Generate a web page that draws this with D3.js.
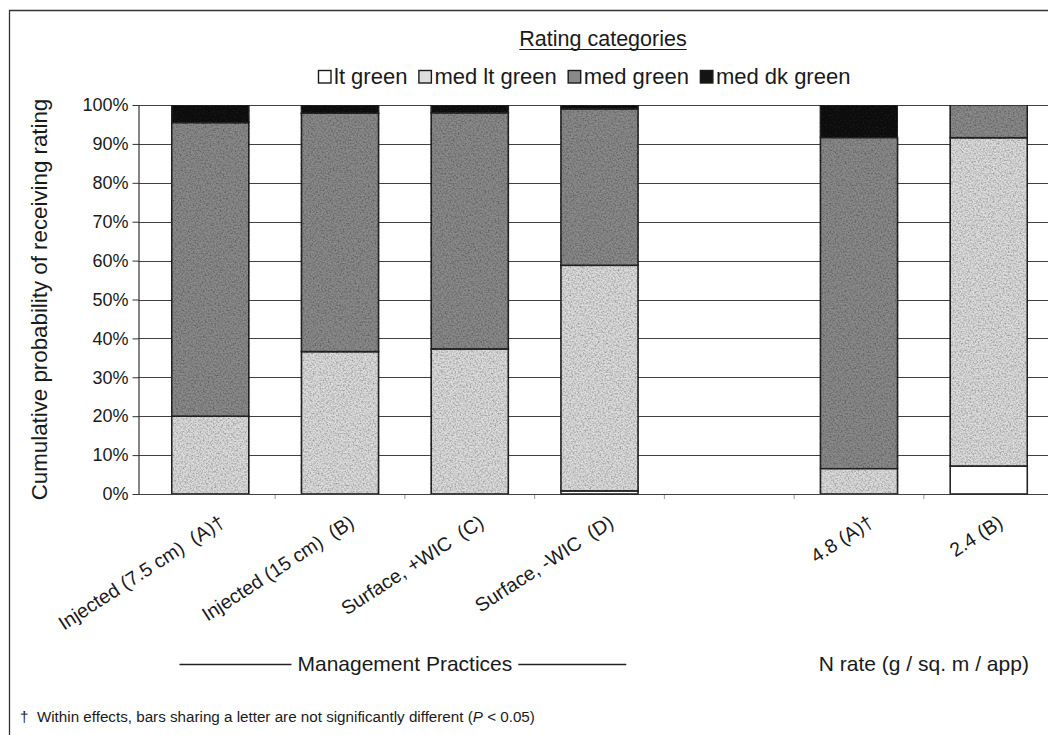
<!DOCTYPE html>
<html>
<head>
<meta charset="utf-8">
<script src="https://cdn.jsdelivr.net/npm/d3@7"></script>
<style>
  body { margin: 0; background: #fff; }
  svg { display: block; font-family: "Liberation Sans", Arial, Helvetica, sans-serif; }
</style>
</head>
<body>
<svg id="chart" width="1048" height="735"></svg>
<script>
// Treatments, in plotting order (an empty slot separates the two effects)
const categories = [
  "Injected (7.5 cm)  (A)\u2020",
  "Injected (15 cm)  (B)",
  "Surface, +WIC  (C)",
  "Surface, -WIC  (D)",
  "4.8 (A)\u2020",
  "2.4 (B)"
];
const slots = [categories[0], categories[1], categories[2], categories[3], "", categories[4], categories[5]];

// Rating categories (stack order, bottom to top)
const ratingNames = ["lt green", "med lt green", "med green", "med dk green"];

// Probability (%) of each rating, per treatment
const ltGreen    = [0.0,  0.0,  0.0,  0.8,  0.0,  7.2];
const medLtGreen = [20.0, 36.6, 37.3, 58.0, 6.5,  84.4];
const medGreen   = [75.5, 61.3, 60.7, 40.2, 85.1, 8.4];
const medDkGreen = [4.5,  2.1,  2.0,  1.0,  8.4,  0.0];

const yTicks = [0, 10, 20, 30, 40, 50, 60, 70, 80, 90, 100];

const effectGroups = [
  { label: "Management Practices", members: [categories[0], categories[3]], rules: true },
  { label: "N rate (g / sq. m / app)", members: [categories[4], categories[5]], rules: false }
];

const fills = ["#ffffff", "#dcdcdc", "#8a8a8a", "#141414"];

// ---------------------------------------------------------------
const svg = d3.select("#chart");
const plot = { left: 138, right: 1061, top: 105, bottom: 494 };

const x = d3.scaleBand()
  .domain(slots)
  .range([plot.left, plot.right])
  .paddingInner(0.406)
  .paddingOuter(0.26);

const y = d3.scaleLinear().domain([0, 100]).range([plot.bottom, plot.top]);

const color = d3.scaleOrdinal().domain(ratingNames).range(fills);

const rows = categories.map((c, i) => ({
  category: c,
  "lt green": ltGreen[i],
  "med lt green": medLtGreen[i],
  "med green": medGreen[i],
  "med dk green": medDkGreen[i]
}));
const stacked = d3.stack().keys(ratingNames)(rows);

// grain for the shaded fills
const defs = svg.append("defs");
const grain = defs.append("filter").attr("id", "grain")
  .attr("x", 0).attr("y", 0).attr("width", 1).attr("height", 1);
grain.append("feTurbulence").attr("type", "fractalNoise")
  .attr("baseFrequency", 0.6).attr("numOctaves", 2).attr("seed", 7).attr("result", "noise");
grain.append("feColorMatrix").attr("in", "noise").attr("type", "matrix")
  .attr("values", "0 0 0 0 0  0 0 0 0 0  0 0 0 0 0  1.2 0 0 0 -0.45").attr("result", "speck");
grain.append("feComposite").attr("in", "speck").attr("in2", "SourceGraphic")
  .attr("operator", "in").attr("result", "speckIn");
const merge = grain.append("feMerge");
merge.append("feMergeNode").attr("in", "SourceGraphic");
merge.append("feMergeNode").attr("in", "speckIn");

// outer frame
svg.append("path")
  .attr("d", "M9.5,740 V10.5 H1060")
  .attr("fill", "none").attr("stroke", "#333").attr("stroke-width", 1.3);

// gridlines
svg.append("g")
  .selectAll("line")
  .data(yTicks)
  .join("line")
  .attr("x1", plot.left).attr("x2", 1048)
  .attr("y1", d => Math.round(y(d)) + 0.5).attr("y2", d => Math.round(y(d)) + 0.5)
  .attr("stroke", "#404040").attr("stroke-width", 1.2);

// category boundary ticks below the baseline
const step = x.step();
const boundaries = slots.slice(0, -1).map(s => x(s) + x.bandwidth() + step * x.paddingInner() / 2);
svg.append("g")
  .selectAll("line")
  .data(boundaries)
  .join("line")
  .attr("x1", d => d).attr("x2", d => d)
  .attr("y1", plot.bottom + 1).attr("y2", plot.bottom + 5)
  .attr("stroke", "#999").attr("stroke-width", 1);

// y axis
const yAxis = svg.append("g")
  .attr("transform", `translate(${plot.left + 0.5},0)`)
  .call(d3.axisLeft(y).tickValues(yTicks).tickFormat(d => d + "%").tickSize(6).tickSizeOuter(0).tickPadding(4));
yAxis.select(".domain").attr("stroke", "#333").attr("stroke-width", 1.2);
yAxis.selectAll(".tick line").attr("stroke", "#333");
yAxis.selectAll(".tick text")
  .attr("font-size", 18).attr("fill", "#1a1a1a")
  .attr("font-family", "'Liberation Sans', Arial, sans-serif");

// stacked bars (the white category stays clean, shaded ones get grain)
const bars = svg.append("g");
bars.selectAll("g")
  .data(stacked)
  .join("g")
  .attr("fill", d => color(d.key))
  .attr("filter", (d, i) => i === 0 ? null : "url(#grain)")
  .selectAll("rect")
  .data(d => d.filter(seg => seg[1] - seg[0] > 0))
  .join("rect")
  .attr("x", d => x(d.data.category))
  .attr("y", d => y(d[1]))
  .attr("width", x.bandwidth())
  .attr("height", d => y(d[0]) - y(d[1]))
  .attr("stroke", "#262626")
  .attr("stroke-width", 1.6);

// y axis title
svg.append("text")
  .attr("transform", `translate(47,${(plot.top + plot.bottom) / 2}) rotate(-90)`)
  .attr("text-anchor", "middle")
  .attr("font-size", 22.3).attr("fill", "#1a1a1a")
  .text("Cumulative probability of receiving rating");

// category labels (double spaces kept)
svg.append("g")
  .selectAll("text")
  .data(categories)
  .join("text")
  .attr("transform", d => `translate(${x(d) + x.bandwidth() / 2 + 8},514) rotate(-33)`)
  .attr("text-anchor", "end")
  .attr("dy", "0.71em")
  .style("white-space", "pre")
  .attr("font-size", 19.5).attr("fill", "#1a1a1a")
  .text(d => d);

// effect group labels
effectGroups.forEach(g => {
  const cx = (x(g.members[0]) + x(g.members[1]) + x.bandwidth()) / 2;
  const t = svg.append("text")
    .attr("x", cx).attr("y", 671)
    .attr("text-anchor", "middle")
    .attr("font-size", 21).attr("fill", "#1a1a1a")
    .text(g.label);
  if (g.rules) {
    const w = t.node().getComputedTextLength();
    const ly = 664.5;
    svg.append("line").attr("x1", cx - w / 2 - 118).attr("x2", cx - w / 2 - 6)
      .attr("y1", ly).attr("y2", ly).attr("stroke", "#222").attr("stroke-width", 1.3);
    svg.append("line").attr("x1", cx + w / 2 + 6).attr("x2", cx + w / 2 + 114)
      .attr("y1", ly).attr("y2", ly).attr("stroke", "#222").attr("stroke-width", 1.3);
  }
});

// legend title
const title = svg.append("text")
  .attr("x", 603).attr("y", 46)
  .attr("text-anchor", "middle")
  .attr("font-size", 21.5).attr("fill", "#1a1a1a")
  .text("Rating categories");
const tw = title.node().getComputedTextLength();
svg.append("line")
  .attr("x1", 603 - tw / 2).attr("x2", 603 + tw / 2)
  .attr("y1", 49.5).attr("y2", 49.5)
  .attr("stroke", "#1a1a1a").attr("stroke-width", 1.2);

// legend entries
const legend = svg.append("g");
let lx = 318;
ratingNames.forEach(name => {
  legend.append("rect")
    .attr("x", lx + 0.5).attr("y", 70.5).attr("width", 12.5).attr("height", 12.5)
    .attr("fill", color(name)).attr("stroke", "#1a1a1a").attr("stroke-width", 1.4);
  const t = legend.append("text")
    .attr("x", lx + 16).attr("y", 83.5)
    .attr("font-size", 22).attr("fill", "#1a1a1a")
    .text(name);
  lx += 16 + t.node().getComputedTextLength() + 11;
});

// footnote
const note = svg.append("text")
  .attr("x", 20).attr("y", 722)
  .attr("font-size", 15.2).attr("fill", "#1a1a1a")
  .style("white-space", "pre");
note.append("tspan").text("\u2020  Within effects, bars sharing a letter are not significantly different (");
note.append("tspan").attr("font-style", "italic").text("P");
note.append("tspan").text(" < 0.05)");
</script>
</body>
</html>
